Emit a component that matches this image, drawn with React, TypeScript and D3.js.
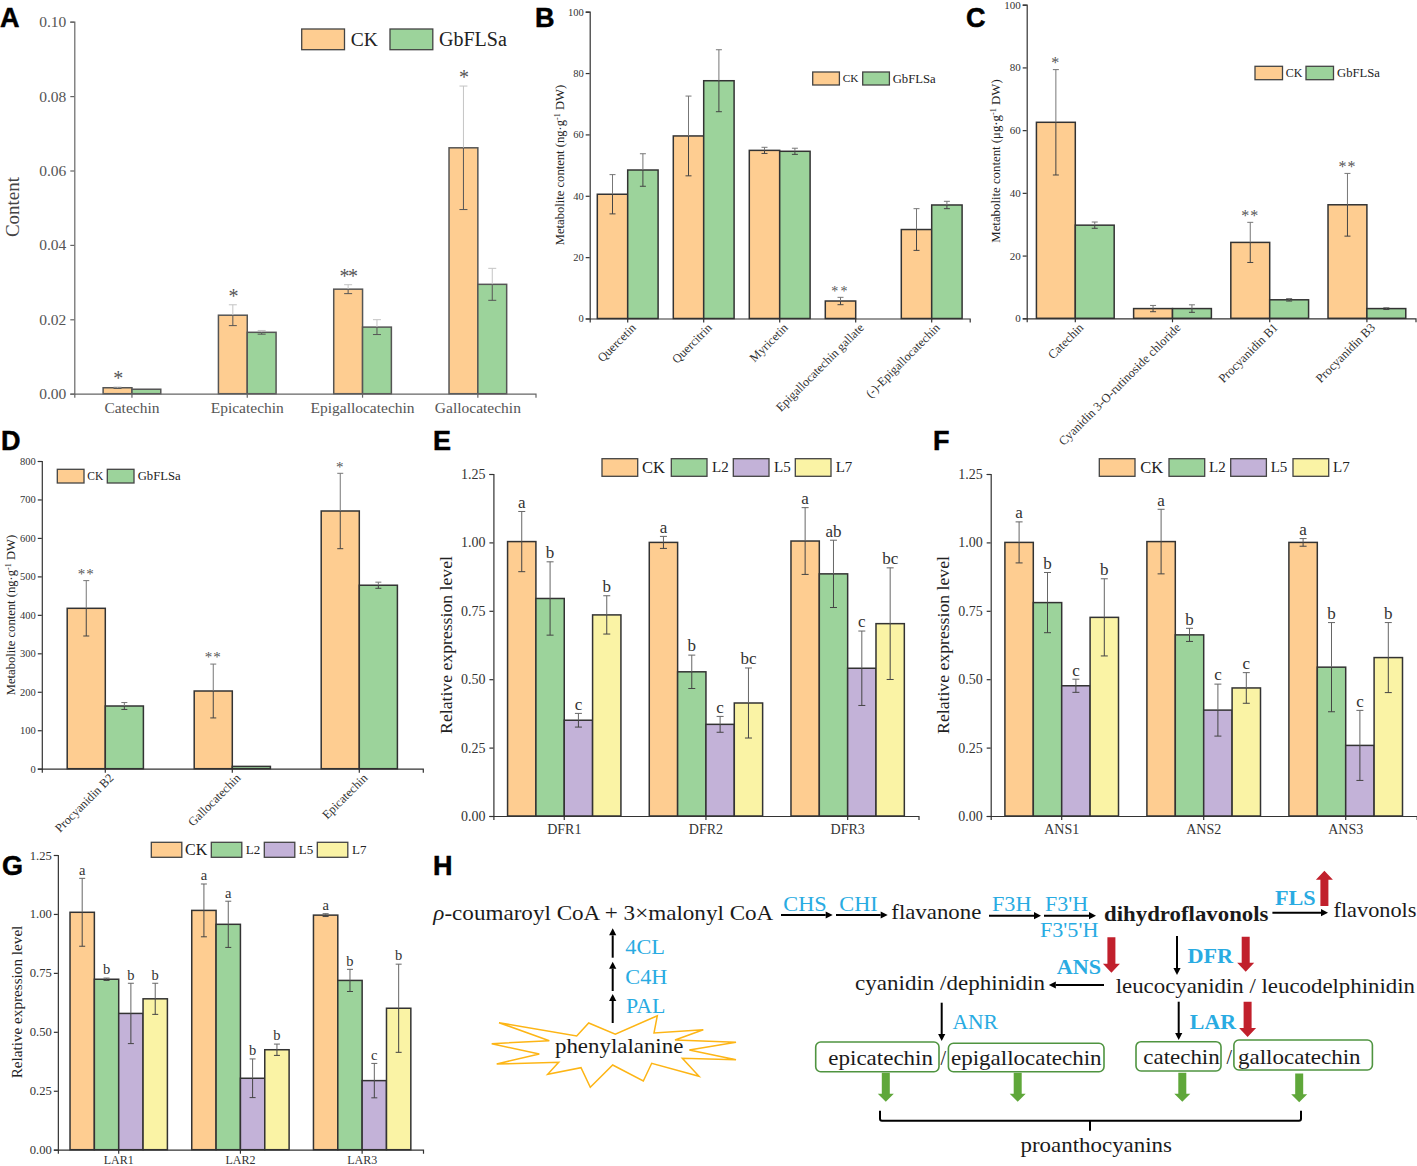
import React, { useEffect, useRef } from 'react'
import * as d3 from 'd3'

const SERIF = '"Liberation Serif", serif'
const SANS = '"Liberation Sans", sans-serif'

const ORANGE = '#FECD91'
const GREEN = '#9CD39B'
const PURPLE = '#C3B2D8'
const YELLOW = '#FAF3A5'
const BLUE = '#29ABE2'
const RED = '#C1202C'
const LEAF = '#5FA73A'

// Panel A
const catA = ['Catechin', 'Epicatechin', 'Epigallocatechin', 'Gallocatechin']
const ckA = [0.0016, 0.0211, 0.0281, 0.0661]
const ckErrA = [0.0002, 0.0028, 0.0012, 0.0166]
const gbA = [0.0012, 0.0165, 0.0179, 0.0294]
const gbErrA = [0, 0.0005, 0.002, 0.0043]
const starsA = ['*', '*', '**', '*']
const ticksA = [0, 0.02, 0.04, 0.06, 0.08, 0.1]

// Panel B
const catB = ['Quercetin', 'Quercitrin', 'Myricetin', 'Epigallocatechin gallate', '(-)-Epigallocatechin']
const ckB = [40.5, 59.5, 54.8, 5.7, 29]
const ckErrB = [6.4, 13, 1, 1.2, 6.8]
const gbB = [48.4, 77.5, 54.5, 0, 37]
const gbErrB = [5.3, 10.1, 1, 0, 1.2]
const starsB = ['', '', '', '**', '']
const ticksB = [0, 20, 40, 60, 80, 100]

// Panel C
const catC = ['Catechin', 'Cyanidin 3-O-rutinoside chloride', 'Procyanidin B1', 'Procyanidin B3']
const ckC = [62.5, 3.1, 24.2, 36.2]
const ckErrC = [16.8, 1, 6.4, 10]
const gbC = [29.7, 3.1, 5.9, 3.1]
const gbErrC = [1, 1.2, 0.4, 0.3]
const starsC = ['*', '', '**', '**']
const ticksC = [0, 20, 40, 60, 80, 100]

// Panel D
const catD = ['Procyanidin B2', 'Gallocatechin', 'Epicatechin']
const ckD = [417, 202, 670]
const ckErrD = [72, 70, 98]
const gbD = [163, 6, 477]
const gbErrD = [9, 0, 8]
const starsD = ['**', '**', '*']
const ticksD = [0, 100, 200, 300, 400, 500, 600, 700, 800]

// Panels E, F, G share the four lines
const lines = ['CK', 'L2', 'L5', 'L7']
const ticksExpr = [0, 0.25, 0.5, 0.75, 1, 1.25]

const catE = ['DFR1', 'DFR2', 'DFR3']
const ckE = [1.003, 1.0, 1.005]
const ckErrE = [0.11, 0.022, 0.122]
const l2E = [0.795, 0.527, 0.885]
const l2ErrE = [0.134, 0.061, 0.123]
const l5E = [0.35, 0.335, 0.54]
const l5ErrE = [0.025, 0.029, 0.136]
const l7E = [0.735, 0.413, 0.703]
const l7ErrE = [0.07, 0.128, 0.204]
const lettersE = [['a', 'a', 'a'], ['b', 'b', 'ab'], ['c', 'c', 'c'], ['b', 'bc', 'bc']]

const catF = ['ANS1', 'ANS2', 'ANS3']
const ckF = [1.0, 1.003, 1.0]
const ckErrF = [0.075, 0.118, 0.014]
const l2F = [0.78, 0.662, 0.544]
const l2ErrF = [0.11, 0.024, 0.163]
const l5F = [0.476, 0.387, 0.258]
const l5ErrF = [0.024, 0.095, 0.128]
const l7F = [0.726, 0.468, 0.579]
const l7ErrF = [0.141, 0.056, 0.128]
const lettersF = [['a', 'a', 'a'], ['b', 'b', 'b'], ['c', 'c', 'c'], ['b', 'c', 'b']]

const catG = ['LAR1', 'LAR2', 'LAR3']
const ckG = [1.007, 1.015, 0.995]
const ckErrG = [0.144, 0.112, 0.006]
const l2G = [0.723, 0.956, 0.718]
const l2ErrG = [0.005, 0.098, 0.047]
const l5G = [0.578, 0.303, 0.293]
const l5ErrG = [0.128, 0.082, 0.073]
const l7G = [0.64, 0.424, 0.6]
const l7ErrG = [0.066, 0.024, 0.187]
const lettersG = [['a', 'a', 'a'], ['b', 'a', 'b'], ['b', 'b', 'c'], ['b', 'b', 'b']]

const twoSeries = (ck: number[], ckErr: number[], gb: number[], gbErr: number[]) => [
  { name: 'CK', color: ORANGE, values: ck, errs: ck.map((_, i) => ckErr[i]) },
  { name: 'GbFLSa', color: GREEN, values: gb, errs: gb.map((_, i) => gbErr[i]) },
]

const fourSeries = (vals: number[][], errs: number[][]) =>
  lines.map((name, i) => ({ name, color: [ORANGE, GREEN, PURPLE, YELLOW][i], values: vals[i], errs: errs[i] }))

// one options object per chart, built from the arrays above
const panels: any[] = [
  {
    cats: catA, series: twoSeries(ckA, ckErrA, gbA, gbErrA), marks: [starsA], ticks: ticksA, max: 0.1, fmt: d3.format('.2f'),
    x0: 74.3, x1: 535.5, top: 21.7, bottom: 393.7, padding: 0.5, tickFs: 15.5, tickPad: 4, labelFs: 15.5, labelPad: 4,
    line: '#666', text: '#555', outer: '#c4c4c4', inner: '#555',
    title: ['Content'], titleFs: 19, titleX: 19, titleY: 207, titleColor: '#444',
    markFs: 20, markLs: -1.3, cap: 4,
    legend: { swatch: [301.7, 390], text: [350.7, 439], y: 29, w: 42.8, h: 20.7, fs: [19.5, 20] },
  },
  {
    cats: catB, series: twoSeries(ckB, ckErrB, gbB, gbErrB), marks: [starsB], ticks: ticksB, max: 100, fmt: d3.format('d'),
    x0: 589.7, x1: 969.7, top: 11.7, bottom: 318.5, padding: 0.2, tickFs: 10.5, labelFs: 12.3, rotate: true,
    line: '#333', text: '#333', outer: '#777', inner: '#444',
    title: ['Metabolite content (ng·g', '-1', ' DW)'], titleFs: 12.6, titleX: 564, titleY: 165,
    markFs: 14, markLs: 2.3, cap: 3,
    legend: { swatch: [812.7, 862.7], text: [842.7, 892.7], y: 72, w: 26.7, h: 13, fs: [11.3, 12.7] },
  },
  {
    cats: catC, series: twoSeries(ckC, ckErrC, gbC, gbErrC), marks: [starsC], ticks: ticksC, max: 100, fmt: d3.format('d'),
    x0: 1026.7, x1: 1415.5, top: 4.7, bottom: 318.3, padding: 0.2, tickFs: 11, labelFs: 12.5, rotate: true,
    line: '#333', text: '#333', outer: '#777', inner: '#444',
    title: ['Metabolite content (μg·g', '-1', ' DW)'], titleFs: 12.8, titleX: 1000, titleY: 161,
    markFs: 16, markLs: 1, cap: 3,
    legend: { swatch: [1255, 1306], text: [1285.7, 1337], y: 66.3, w: 27.5, h: 13.4, fs: [12, 12.7] },
  },
  {
    cats: catD, series: twoSeries(ckD, ckErrD, gbD, gbErrD), marks: [starsD], ticks: ticksD, max: 800, fmt: d3.format('d'),
    x0: 41.8, x1: 422.8, top: 461, bottom: 768.7, padding: 0.4, tickFs: 10.5, labelFs: 12.3, rotate: true,
    line: '#333', text: '#333', outer: '#777', inner: '#444',
    title: ['Metabolite content (ng·g', '-1', ' DW)'], titleFs: 12.6, titleX: 15, titleY: 615,
    markFs: 15, markLs: 1, cap: 3,
    legend: { swatch: [57.3, 107.3], text: [87.3, 137.7], y: 469.3, w: 26.7, h: 13.7, fs: [11.5, 12.7] },
  },
  {
    cats: catE, series: fourSeries([ckE, l2E, l5E, l7E], [ckErrE, l2ErrE, l5ErrE, l7ErrE]), marks: lettersE, ticks: ticksExpr, max: 1.25, fmt: d3.format('.2f'),
    x0: 493.4, x1: 918.5, top: 474, bottom: 816, padding: 0.2, tickFs: 14, tickPad: 4, labelFs: 14, labelPad: 4,
    line: '#333', text: '#333', outer: '#666', inner: '#444',
    title: ['Relative expression level'], titleFs: 17.7, titleX: 452, titleY: 645,
    letterFs: 17, cap: 3.5,
    legend: { swatch: [602, 671.3, 733.3, 795.3], text: [642, 712, 774, 835.7], y: 458.7, w: 35.7, h: 17.6, fs: [16.5, 15] },
  },
  {
    cats: catF, series: fourSeries([ckF, l2F, l5F, l7F], [ckErrF, l2ErrF, l5ErrF, l7ErrF]), marks: lettersF, ticks: ticksExpr, max: 1.25, fmt: d3.format('.2f'),
    x0: 990.7, x1: 1416.7, top: 474, bottom: 816, padding: 0.2, tickFs: 14, tickPad: 4, labelFs: 14, labelPad: 4,
    line: '#333', text: '#333', outer: '#666', inner: '#444',
    title: ['Relative expression level'], titleFs: 17.7, titleX: 949, titleY: 645,
    letterFs: 17, cap: 3.5,
    legend: { swatch: [1099.3, 1169, 1230.7, 1293], text: [1140.3, 1209, 1270.7, 1333], y: 458.7, w: 35.7, h: 17.6, fs: [16.5, 15] },
  },
  {
    cats: catG, series: fourSeries([ckG, l2G, l5G, l7G], [ckErrG, l2ErrG, l5ErrG, l7ErrG]), marks: lettersG, ticks: ticksExpr, max: 1.25, fmt: d3.format('.2f'),
    x0: 57.85, x1: 423, top: 855, bottom: 1149.7, padding: 0.2, tickFs: 12.6, labelFs: 12, labelPad: 1.5,
    line: '#333', text: '#333', outer: '#666', inner: '#444',
    title: ['Relative expression level'], titleFs: 15.2, titleX: 22, titleY: 1002,
    letterFs: 14.5, cap: 3,
    legend: { swatch: [151.3, 211.3, 264.3, 317.3], text: [185, 245.7, 298.7, 352], y: 842.3, w: 30.5, h: 15, fs: [16, 13] },
  },
]

const panelLetters = [
  ['A', 0, 27], ['B', 535, 27], ['C', 966, 27], ['D', 1, 450],
  ['E', 433, 450], ['F', 933, 450], ['G', 2, 875], ['H', 433, 875],
]

function drawPanel(root: d3.Selection<SVGGElement, unknown, null, undefined>, p: any) {
  const g = root.append('g').attr('font-family', SERIF)
  const x = d3.scaleBand<string>().domain(p.cats).range([p.x0, p.x1]).paddingInner(p.padding).paddingOuter(p.padding / 2)
  const bar = d3.scaleBand<string>().domain(p.series.map((s: any) => s.name)).range([0, x.bandwidth()])
  const y = d3.scaleLinear().domain([0, p.max]).range([p.bottom, p.top])

  p.series.forEach((s: any, si: number) => {
    p.cats.forEach((c: string, i: number) => {
      const v = s.values[i]
      if (v <= 0) return
      const left = x(c)! + bar(s.name)!
      g.append('rect')
        .attr('x', left)
        .attr('y', y(v))
        .attr('width', bar.bandwidth())
        .attr('height', y(0) - y(v))
        .attr('fill', s.color)
        .attr('stroke', p.line === '#666' ? '#555' : '#333')
        .attr('stroke-width', 1.5)

      const mid = left + bar.bandwidth() / 2
      const e = s.errs[i]
      const whisk = (a: number, b: number, col: string) =>
        g.append('line').attr('x1', mid).attr('x2', mid).attr('y1', y(a)).attr('y2', y(b)).attr('stroke', col).attr('stroke-width', 1)
      const cap = (a: number, col: string) =>
        g.append('line').attr('x1', mid - p.cap).attr('x2', mid + p.cap).attr('y1', y(a)).attr('y2', y(a)).attr('stroke', col).attr('stroke-width', 1)
      if (e > 0) {
        whisk(v, v + e, p.outer)
        whisk(v - e, v, p.inner)
        cap(v + e, p.outer)
        cap(v - e, p.inner)
      }

      const mark = p.marks[p.marks.length === 1 ? 0 : si][i]
      if (mark && (p.marks.length > 1 || si === 0)) {
        g.append('text')
          .attr('x', mid)
          .attr('y', y(v + e) - (p.letterFs ? 3.7 : 1.8))
          .attr('text-anchor', 'middle')
          .attr('font-size', p.letterFs || p.markFs)
          .attr('letter-spacing', p.letterFs ? 0 : p.markLs)
          .attr('fill', p.letterFs ? '#333' : '#555')
          .text(mark)
      }
    })
  })

  // axes go on top of the bars
  const yAxis = g.append('g').attr('transform', `translate(${p.x0},0)`)
    .call(d3.axisLeft(y).tickValues(p.ticks).tickFormat(p.fmt).tickSizeOuter(0).tickSize(4).tickPadding(p.tickPad ?? 2))
  yAxis.selectAll('text').attr('font-size', p.tickFs).attr('font-family', SERIF).attr('fill', p.text)
  yAxis.selectAll('line,path').attr('stroke', p.line).attr('stroke-width', 1.2)

  const xAxis = g.append('g').attr('transform', `translate(0,${p.bottom})`)
    .call(d3.axisBottom(x).tickSizeOuter(0).tickSize(4).tickPadding(p.labelPad ?? 3))
  xAxis.selectAll('line,path').attr('stroke', p.line).attr('stroke-width', 1.2)
  const labels = xAxis.selectAll('text').attr('font-size', p.labelFs).attr('font-family', SERIF).attr('fill', p.text)
  if (p.rotate) {
    labels
      .attr('y', 0)
      .attr('dy', 0)
      .attr('text-anchor', 'end')
      .attr('transform', 'translate(9,10) rotate(-45)')
  }

  const t = g.append('text')
    .attr('transform', `translate(${p.titleX},${p.titleY}) rotate(-90)`)
    .attr('text-anchor', 'middle')
    .attr('font-size', p.titleFs)
    .attr('fill', p.titleColor || '#222')
  t.append('tspan').text(p.title[0])
  if (p.title.length > 1) {
    t.append('tspan').attr('dy', -4).attr('font-size', p.titleFs * 0.65).text(p.title[1])
    t.append('tspan').attr('dy', 4).text(p.title[2])
  }

  const lg = p.legend
  p.series.forEach((s: any, i: number) => {
    g.append('rect')
      .attr('x', lg.swatch[i]).attr('y', lg.y).attr('width', lg.w).attr('height', lg.h)
      .attr('fill', s.color).attr('stroke', '#444').attr('stroke-width', 1.3)
    const fs = lg.fs[i === 0 ? 0 : 1]
    g.append('text')
      .attr('x', lg.text[i]).attr('y', lg.y + lg.h / 2 + fs * 0.33)
      .attr('font-size', fs).attr('fill', '#222')
      .text(s.name)
  })
}

// pathway diagram helpers
const T: React.FC<{ x: number; y: number; w?: number; c?: string; b?: boolean; fs?: number; children: React.ReactNode }> = ({ x, y, w, c, b, fs, children }) => (
  <text x={x} y={y} textLength={w} lengthAdjust="spacingAndGlyphs" fontSize={fs || 22} fontFamily={SERIF} fontWeight={b ? 'bold' : 'normal'} fill={c || '#1a1a1a'}>
    {children}
  </text>
)

const Arrow: React.FC<{ x1: number; y1: number; x2: number; y2: number }> = ({ x1, y1, x2, y2 }) => {
  const a = Math.atan2(y2 - y1, x2 - x1)
  const len = 7
  const hw = 3.6
  const bx = x2 - len * Math.cos(a)
  const by = y2 - len * Math.sin(a)
  const nx = -Math.sin(a) * hw
  const ny = Math.cos(a) * hw
  return (
    <g>
      <line x1={x1} y1={y1} x2={bx} y2={by} stroke="#000" strokeWidth={2} />
      <polygon points={`${x2},${y2} ${bx + nx},${by + ny} ${bx - nx},${by - ny}`} fill="#000" />
    </g>
  )
}

const Block: React.FC<{ x: number; y1: number; y2: number; fill: string; sw?: number; hw?: number; hl?: number }> = ({ x, y1, y2, fill, sw = 8, hw = 17, hl = 9 }) => {
  const dir = y2 > y1 ? 1 : -1
  const neck = y2 - dir * hl
  const pts = [
    [x - sw / 2, y1], [x + sw / 2, y1], [x + sw / 2, neck], [x + hw / 2, neck],
    [x, y2], [x - hw / 2, neck], [x - sw / 2, neck],
  ]
  return <polygon points={pts.map((q) => q.join(',')).join(' ')} fill={fill} />
}

const Box: React.FC<{ x1: number; y1: number; x2: number; y2: number }> = ({ x1, y1, x2, y2 }) => (
  <rect x={x1} y={y1} width={x2 - x1} height={y2 - y1} rx={5} fill="#fff" stroke="#4F9440" strokeWidth={1.6} />
)

const starPoints = '499,1022.7 576.7,1036 588.7,1023 615.3,1034.3 657.3,1015.7 654,1033 703.3,1029.7 675,1040 736,1042.3 689.3,1050 736,1059.7 682.3,1058.3 699,1076.3 651.7,1063.3 643.3,1081 612.7,1065 590.3,1087.3 581,1067.7 547.7,1074.3 558.7,1062.3 496.7,1064 539.3,1054 491.7,1043.7 549.3,1040.7'

const Pathway: React.FC = () => (
  <g>
    <T x={433.3} y={920} w={340}><tspan fontStyle="italic">ρ</tspan>-coumaroyl CoA + 3×malonyl CoA</T>
    <T x={783.3} y={911} w={43.4} c={BLUE}>CHS</T>
    <T x={839.3} y={911} w={38.4} c={BLUE}>CHI</T>
    <Arrow x1={781} y1={915} x2={832.7} y2={915} />
    <Arrow x1={836} y1={915} x2={887.7} y2={915} />
    <T x={891.3} y={919.3} w={90}>flavanone</T>
    <T x={992} y={911} w={39.5} c={BLUE}>F3H</T>
    <T x={1045} y={911} w={43} c={BLUE}>F3'H</T>
    <Arrow x1={989} y1={915.7} x2={1041} y2={915.7} />
    <Arrow x1={1044} y1={915.7} x2={1096} y2={915.7} />
    <T x={1040} y={937} w={58.4} c={BLUE}>F3'5'H</T>
    <T x={1104} y={920.7} w={164.5} b>dihydroflavonols</T>
    <T x={1275} y={905} w={40.7} c={BLUE} b>FLS</T>
    <Block x={1324.4} y1={906} y2={870.7} fill={RED} />
    <Arrow x1={1272.4} y1={912.7} x2={1328} y2={912.7} />
    <T x={1333.5} y={917.3} w={83}>flavonols</T>

    <Arrow x1={1177} y1={936} x2={1177} y2={975} />
    <T x={1187.4} y={962.7} w={45.6} c={BLUE} b>DFR</T>
    <Block x={1245.7} y1={936.7} y2={971.7} fill={RED} />
    <T x={1056.7} y={974} w={44.3} c={BLUE} b>ANS</T>
    <Block x={1111.4} y1={937.3} y2={972.7} fill={RED} />
    <T x={855} y={990} w={190}>cyanidin /dephinidin</T>
    <Arrow x1={1104} y1={985} x2={1048.8} y2={985} />
    <T x={1115.7} y={992.7} w={299.3}>leucocyanidin / leucodelphinidin</T>

    <Arrow x1={941.7} y1={1002.7} x2={941.7} y2={1041} />
    <T x={952.4} y={1028.7} w={45.6} c={BLUE}>ANR</T>
    <Arrow x1={1178.7} y1={1001.7} x2={1178.7} y2={1040} />
    <T x={1189.8} y={1029.3} w={46.2} c={BLUE} b>LAR</T>
    <Block x={1247.6} y1={1001.7} y2={1037} fill={RED} />

    <Box x1={815.7} y1={1042} x2={939} y2={1071.7} />
    <Box x1={948.4} y1={1043.3} x2={1104} y2={1071.7} />
    <Box x1={1136} y1={1041.7} x2={1221} y2={1071} />
    <Box x1={1233.9} y1={1040} x2={1372.4} y2={1070} />
    <T x={828.3} y={1065} w={104.7}>epicatechin</T>
    <T x={940.5} y={1065} fs={20}>/</T>
    <T x={951} y={1065} w={150.6}>epigallocatechin</T>
    <T x={1143.3} y={1064.3} w={76.4}>catechin</T>
    <T x={1226.5} y={1064} fs={20}>/</T>
    <T x={1238} y={1064} w={122.6}>gallocatechin</T>

    <Block x={885.8} y1={1072.7} y2={1101.7} fill={LEAF} sw={8} hw={16} hl={8} />
    <Block x={1017.7} y1={1072.7} y2={1101.7} fill={LEAF} sw={8} hw={16} hl={8} />
    <Block x={1182.3} y1={1072.7} y2={1101.7} fill={LEAF} sw={8} hw={16} hl={8} />
    <Block x={1299.2} y1={1073.5} y2={1102.3} fill={LEAF} sw={8} hw={16} hl={8} />

    <path d="M880,1110.7 V1118.7 Q880,1120.7 882,1120.7 H1299 Q1301,1120.7 1301,1118.7 V1110.7 M1090,1120.7 V1130.7" fill="none" stroke="#000" strokeWidth={2} />
    <T x={1020.5} y={1151.7} w={151.5}>proanthocyanins</T>

    <polygon points={starPoints} fill="#fff" stroke="#FDB515" strokeWidth={1.5} />
    <Arrow x1={612.7} y1={957.7} x2={612.7} y2={928.3} />
    <Arrow x1={612.7} y1={991} x2={612.7} y2={961.7} />
    <Arrow x1={612.7} y1={1023} x2={612.7} y2={994} />
    <T x={625.3} y={953.7} w={39.7} c={BLUE}>4CL</T>
    <T x={625.3} y={984} w={42} c={BLUE}>C4H</T>
    <T x={626} y={1013.3} w={39.3} c={BLUE}>PAL</T>
    <T x={555} y={1053.3} w={128.3}>phenylalanine</T>
  </g>
)

const App: React.FC = () => {
  const chartsRef = useRef<SVGGElement | null>(null)

  useEffect(() => {
    if (!chartsRef.current) return
    const root = d3.select(chartsRef.current)
    root.selectAll('*').remove()
    panels.forEach((p) => drawPanel(root, p))
  }, [])

  return (
    <svg width={1417} height={1166} style={{ position: 'absolute', left: 0, top: 0, background: '#fff' }}>
      <Pathway />
      <g ref={chartsRef} />
      {panelLetters.map(([l, x, y]) => (
        <text key={l as string} x={x as number} y={y as number} fontFamily={SANS} fontWeight="bold" fontSize={27} stroke="#000" strokeWidth={0.5} fill="#000">
          {l}
        </text>
      ))}
    </svg>
  )
}

export default App
